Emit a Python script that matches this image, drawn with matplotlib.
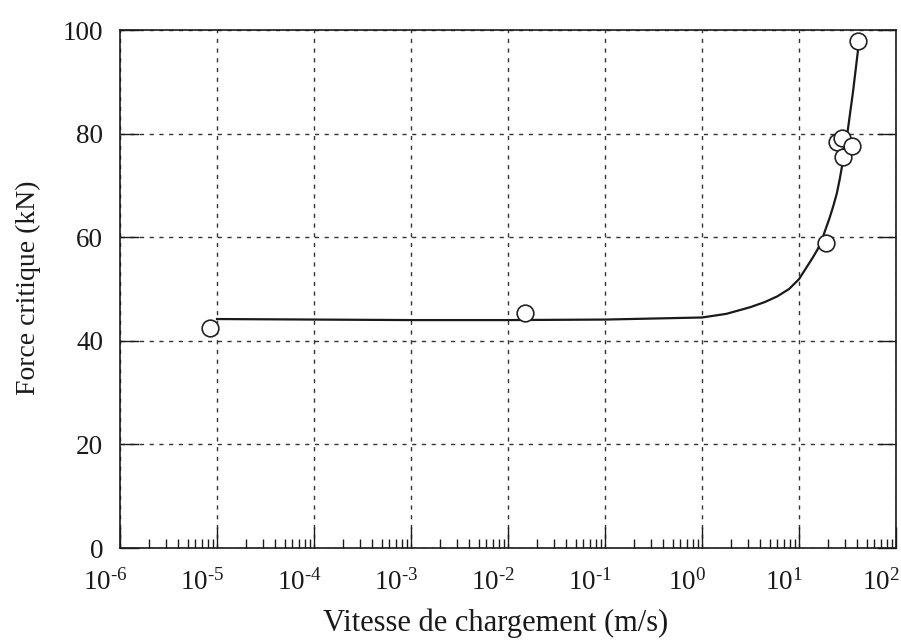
import matplotlib
matplotlib.use("Agg")
import matplotlib.pyplot as plt
import matplotlib.transforms as mtransforms
from matplotlib.ticker import LogLocator, NullFormatter, FixedLocator

plt.rcParams['font.family'] = ['Liberation Serif', 'DejaVu Serif']
plt.rcParams['mathtext.fontset'] = 'custom'
plt.rcParams['mathtext.rm'] = 'Liberation Serif'
plt.rcParams['mathtext.it'] = 'Liberation Serif:italic'

# ---- data ----
curve_x = [1e-5, 1e-4, 1e-3, 1e-2, 1e-1, 1.0, 1.78, 3.16, 4.47, 6.0, 7.9, 10.0,
           11.7, 13.8, 15.5, 17.0, 18.6, 20.4, 22.4, 24.5, 26.3, 28.2, 31.6, 36.0, 40.7]
curve_y = [44.2, 44.1, 44.0, 44.0, 44.1, 44.5, 45.2, 46.5, 47.5, 48.6, 50.0, 51.9,
           53.9, 56.0, 57.6, 59.2, 61.3, 63.4, 65.8, 68.4, 71.2, 74.4, 80.2, 88.0, 96.3]

pts_x = [8.5e-6, 0.015, 19.0, 24.9, 27.6, 28.4, 35.6, 41.0]
pts_y = [42.5, 45.4, 58.8, 78.3, 79.2, 75.4, 77.7, 97.8]

x_ticks = [1e-6, 1e-5, 1e-4, 1e-3, 1e-2, 1e-1, 1e0, 1e1, 1e2]
x_tick_labels = [r'$\mathregular{10^{\text{-}6}}$', r'$\mathregular{10^{\text{-}5}}$',
                 r'$\mathregular{10^{\text{-}4}}$', r'$\mathregular{10^{\text{-}3}}$',
                 r'$\mathregular{10^{\text{-}2}}$', r'$\mathregular{10^{\text{-}1}}$',
                 r'$\mathregular{10^{0}}$', r'$\mathregular{10^{1}}$', r'$\mathregular{10^{2}}$']
y_ticks = [0, 20, 40, 60, 80, 100]
y_tick_labels = ['0', '20', '40', '60', '80', '100']

xlabel = 'Vitesse de chargement (m/s)'
ylabel = 'Force critique (kN)'

# ---- figure ----
W, H = 901, 641
fig = plt.figure(figsize=(W / 100, H / 100), dpi=100)
left, right, top, bottom = 120, 896, 30, 548
ax = fig.add_axes([left / W, (H - bottom) / H, (right - left) / W, (bottom - top) / H])

ax.set_xscale('log')
ax.set_xlim(1e-6, 1e2)
ax.set_ylim(0, 100)

ax.grid(True, which='major', color='#333333', linestyle=(0, (3, 4)), linewidth=1.0)
ax.set_axisbelow(True)

ax.plot(curve_x, curve_y, color='#1a1a1a', linewidth=1.6, zorder=3,
        solid_joinstyle='round')
ax.plot(pts_x, pts_y, linestyle='none', marker='o', markersize=12,
        markerfacecolor='white', markeredgecolor='#222222', markeredgewidth=1.2, zorder=4)

ax.xaxis.set_major_locator(FixedLocator(x_ticks))
ax.set_xticklabels(x_tick_labels)
ax.xaxis.set_minor_locator(LogLocator(base=10, subs=range(2, 10), numticks=20))
ax.xaxis.set_minor_formatter(NullFormatter())
ax.set_yticks(y_ticks)
ax.set_yticklabels(y_tick_labels)

ax.tick_params(axis='x', which='major', direction='in', length=15, width=1.0,
               labelsize=19.5, pad=15, top=False, colors='#1a1a1a')
ax.tick_params(axis='x', which='minor', direction='in', length=6.5, width=1.0, top=False,
               colors='#1a1a1a')
ax.tick_params(axis='y', which='major', direction='in', length=14, width=1.0,
               labelsize=19.5, pad=12, right=True, colors='#1a1a1a')

# shift x tick labels slightly left as in the reference
offset = mtransforms.ScaledTranslation(-15 / 100, 0, fig.dpi_scale_trans)
for lab in ax.get_xticklabels():
    lab.set_transform(lab.get_transform() + offset)

for sp in ax.spines.values():
    sp.set_linewidth(1.2)
    sp.set_color('#1a1a1a')

ax.set_xlabel(xlabel, fontsize=22, color='#1a1a1a')
ax.set_ylabel(ylabel, fontsize=20, color='#1a1a1a')
ax.xaxis.set_label_coords((496 - left) / (right - left), (bottom - 609) / (bottom - top))
ax.yaxis.set_label_coords((41 - left) / (right - left), (bottom - 288) / (bottom - top))

fig.savefig('out.png', dpi=100)
